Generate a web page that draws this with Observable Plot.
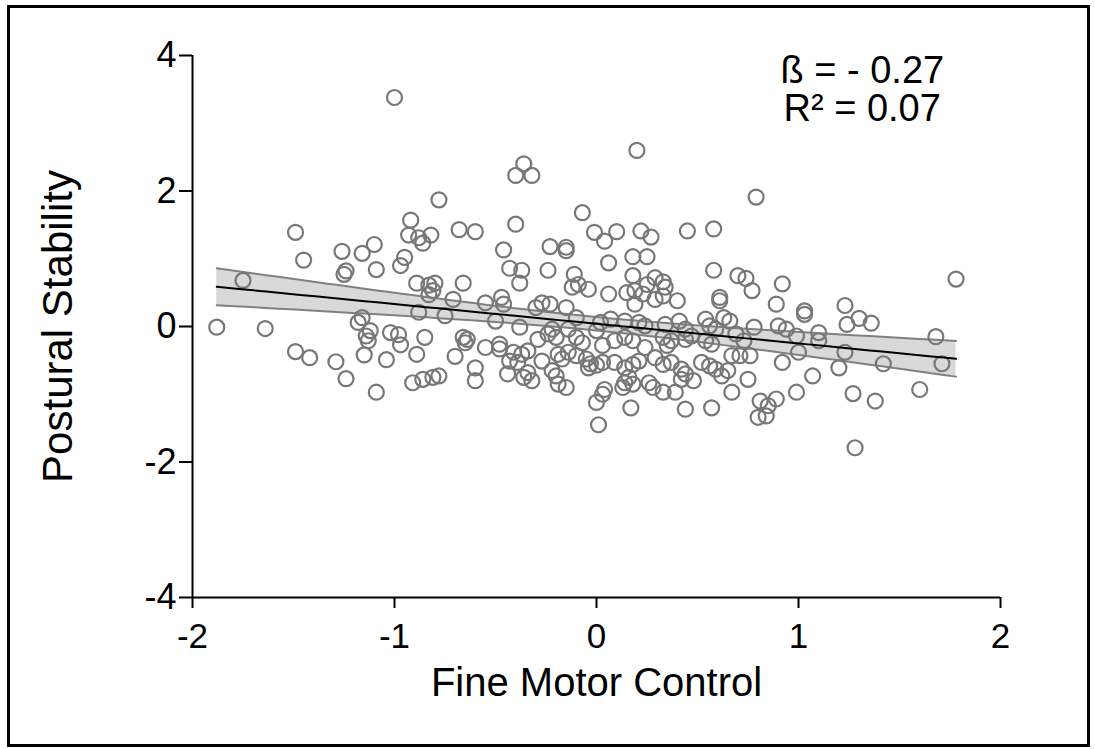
<!DOCTYPE html>
<html><head><meta charset="utf-8">
<script src="https://cdn.jsdelivr.net/npm/d3@7"></script>
<script src="https://cdn.jsdelivr.net/npm/@observablehq/plot@0.6"></script>
<style>
body{margin:0;background:#fff;}
#wrap{position:relative;width:1095px;height:749px;overflow:hidden;background:#fff;}
#border{position:absolute;left:7px;top:5px;width:1083px;height:742px;border:3px solid #000;box-sizing:border-box;pointer-events:none;}
#chart{position:absolute;left:0;top:0;}
</style></head><body><div id="wrap"><div id="chart"></div><div id="border"></div></div>
<script>
// Fine Motor Control (x) and Postural Stability (y)
const fineMotor = [
-1.00,-1.49,-1.45,-1.26,-1.16,-1.10,-1.09,-1.24,-1.25,-1.75,
-0.36,-0.40,-0.32,-0.78,-0.92,-0.93,-0.88,-0.86,-0.82,-0.68,-0.60,-0.40,-0.07,-0.01,-0.23,-0.15,-0.15,-0.46,-0.43,-0.37,-0.24,-0.11,-0.95,-0.97,
-0.89,-0.83,-0.80,-0.81,-0.83,-0.66,-0.38,-0.12,-0.09,-0.04,
0.20,0.79,0.10,0.04,0.22,0.27,0.45,0.58,0.06,0.18,0.25,0.58,0.70,0.74,0.92,0.18,0.29,0.33,0.25,0.34,
1.78,
-1.88,-1.64,-1.49,-1.42,-1.29,-1.24,-1.09,-1.16,-1.18,-1.12,-1.14,-1.13,-1.15,-1.04,-1.02,-0.98,-0.97,
-0.71,-0.88,-0.75,-0.55,-0.47,-0.46,-0.50,-0.38,-0.30,-0.27,-0.23,-0.15,-0.10,-0.85,-0.89,-0.70,-0.66,-0.65,-0.64,-0.55,-0.48,-0.48,
-0.41,-0.37,-0.34,-0.43,-0.39,-0.27,-0.29,-0.24,-0.20,-0.22,-0.14,-0.10,-0.07,-0.19,-0.17,-0.14,-0.10,-0.05,-0.03,0.00,-0.04,
-0.22,-0.20,-0.15,-0.19,-0.44,-0.36,-0.34,-0.32,-0.60,-0.60,-0.91,-0.86,-0.81,-0.78,0.00,0.01,
0.06,0.15,0.19,0.23,0.33,0.40,0.19,0.29,0.77,0.61,0.61,0.89,0.02,0.07,0.14,0.00,0.21,0.24,0.34,0.41,0.44,
0.54,0.56,0.59,0.63,0.66,0.78,0.69,0.73,0.90,0.94,0.09,0.14,0.03,0.18,0.24,0.33,0.37,0.35,0.44,0.47,0.54,0.57,
0.67,0.71,0.76,0.92,0.03,0.09,0.14,0.18,0.21,0.29,0.33,0.37,0.42,0.44,0.52,0.56,0.59,0.62,0.65,0.48,0.75,0.67,
0.16,0.14,0.18,0.13,0.26,0.28,0.33,0.39,0.42,0.04,0.03,0.17,0.44,0.57,0.81,0.85,0.89,0.80,0.84,
1.23,1.03,1.03,1.24,1.30,1.36,1.10,1.10,0.99,1.00,1.23,1.20,1.42,1.68,1.71,1.07,0.99,1.27,1.38,1.60,1.28
];
const posturalStability = [
3.38,1.39,0.98,1.11,1.08,1.21,0.84,0.82,0.77,0.68,
2.40,2.23,2.23,1.87,1.57,1.35,1.31,1.23,1.35,1.43,1.40,1.51,1.68,1.39,1.18,1.17,1.12,1.13,0.86,0.83,0.83,0.77,1.02,0.90,
0.64,0.61,0.64,0.53,0.47,0.64,0.64,0.58,0.62,0.55,
2.60,1.91,1.40,1.26,1.41,1.32,1.41,1.44,0.94,1.03,1.03,0.83,0.75,0.71,0.63,0.75,0.72,0.66,0.62,0.58,
0.70,
-0.01,-0.03,-0.37,-0.46,-0.52,-0.77,-0.97,0.13,0.06,-0.06,-0.14,-0.21,-0.42,-0.49,-0.09,-0.12,-0.27,
0.40,0.21,0.16,0.35,0.43,0.33,0.08,-0.01,0.28,0.35,0.33,0.28,0.13,-0.16,-0.41,-0.44,-0.16,-0.24,-0.19,-0.31,-0.33,-0.26,
-0.38,-0.41,-0.36,-0.51,-0.53,-0.51,-0.19,-0.11,-0.16,-0.04,-0.04,-0.16,-0.24,-0.41,-0.48,-0.38,-0.43,-0.48,-0.55,-0.57,-0.61,
-0.65,-0.73,-0.90,-0.85,-0.70,-0.75,-0.68,-0.80,-0.61,-0.80,-0.83,-0.78,-0.75,-0.73,-1.12,-1.45,
0.48,0.50,0.53,0.48,0.45,0.38,0.33,0.40,0.53,0.38,0.43,0.33,0.06,0.11,0.08,-0.06,0.06,0.01,0.03,0.08,-0.04,
0.11,0.01,-0.04,0.13,0.08,-0.01,-0.11,-0.21,0.01,-0.04,-0.21,-0.16,-0.28,-0.21,-0.31,-0.16,-0.21,-0.28,-0.19,-0.14,-0.21,-0.26,
-0.43,-0.43,-0.43,-0.53,-0.53,-0.53,-0.61,-0.56,-0.51,-0.46,-0.56,-0.53,-0.63,-0.70,-0.53,-0.58,-0.63,-0.73,-0.65,-0.80,-0.78,-0.97,
-0.75,-0.83,-0.85,-0.90,-0.83,-0.90,-0.97,-0.97,-0.78,-0.93,-1.00,-1.20,-1.22,-1.20,-1.10,-1.17,-1.07,-1.34,-1.32,
0.31,0.23,0.18,0.03,0.12,0.05,-0.09,-0.21,-0.14,-0.38,-0.38,-0.61,-0.55,-0.15,-0.55,-0.73,-0.97,-0.99,-1.10,-0.93,-1.79
];
const xTicks = [-2, -1, 0, 1, 2];
const yTicks = [-4, -2, 0, 2, 4];
const xTitle = "Fine Motor Control";
const yTitle = "Postural Stability";
const betaLabel = "ß = - 0.27";
const r2Label = "R² = 0.07";

const points = fineMotor.map((x, i) => ({x, y: posturalStability[i]}));

// ordinary least squares fit with 95% confidence band, computed from the points
const n = points.length;
const mx = d3.mean(points, d => d.x), my = d3.mean(points, d => d.y);
const sxx = d3.sum(points, d => (d.x - mx) ** 2);
const sxy = d3.sum(points, d => (d.x - mx) * (d.y - my));
const slope = sxy / sxx, intercept = my - slope * mx;
const sse = d3.sum(points, d => (d.y - intercept - slope * d.x) ** 2);
const s = Math.sqrt(sse / (n - 2));
const tval = 1.97;
const [xmin, xmax] = d3.extent(points, d => d.x);
const band = d3.range(0, 61).map(i => {
  const x = xmin + (xmax - xmin) * i / 60;
  const fit = intercept + slope * x;
  const se = s * Math.sqrt(1 / n + (x - mx) ** 2 / sxx);
  return {x, fit, lo: fit - tval * se, hi: fit + tval * se};
});

const fmt = d => (d < 0 ? "-" + (-d) : String(d));
const font = "'Liberation Sans', Arial, Helvetica, sans-serif";

const chart = Plot.plot({
  width: 1095,
  height: 749,
  marginLeft: 192,
  marginRight: 95,
  marginTop: 55,
  marginBottom: 152,
  x: {domain: [-2, 2]},
  y: {domain: [-4, 4]},
  style: {fontFamily: font, background: "transparent", color: "#000"},
  marks: [
    Plot.areaY(band, {x: "x", y1: "lo", y2: "hi", fill: "#d9d9d9"}),
    Plot.line(band, {x: "x", y: "lo", stroke: "#808080", strokeWidth: 2}),
    Plot.line(band, {x: "x", y: "hi", stroke: "#808080", strokeWidth: 2}),
    Plot.dot(points, {x: "x", y: "y", r: 7.5, stroke: "#777", strokeWidth: 2.2, fill: "none"}),
    Plot.line(band, {x: "x", y: "fit", stroke: "#000", strokeWidth: 2}),
    Plot.ruleX([-2], {stroke: "#000", strokeWidth: 2}),
    Plot.ruleY([-4], {stroke: "#000", strokeWidth: 2}),
    Plot.axisX({ticks: xTicks, tickFormat: fmt, tickSize: 11, tickPadding: 15, fontSize: 35, strokeWidth: 2, label: null}),
    Plot.axisY({ticks: yTicks, tickFormat: fmt, tickSize: 13, tickPadding: 3, fontSize: 36, strokeWidth: 2, label: null}),
    Plot.text([xTitle], {frameAnchor: "bottom", lineAnchor: "middle", dy: 86, fontSize: 40, fill: "#000"}),
    Plot.text([yTitle], {frameAnchor: "left", textAnchor: "middle", lineAnchor: "middle", rotate: -90, dx: -134, fontSize: 42, fill: "#000"}),
    Plot.text([betaLabel], {frameAnchor: "top-left", textAnchor: "start", lineAnchor: "middle", dx: 588, dy: 15, fontSize: 38, fill: "#000"}),
    Plot.text([r2Label], {frameAnchor: "top-left", textAnchor: "start", lineAnchor: "middle", dx: 591, dy: 53, fontSize: 38, fill: "#000"})
  ]
});
document.getElementById("chart").append(chart);
</script>
</body></html>
